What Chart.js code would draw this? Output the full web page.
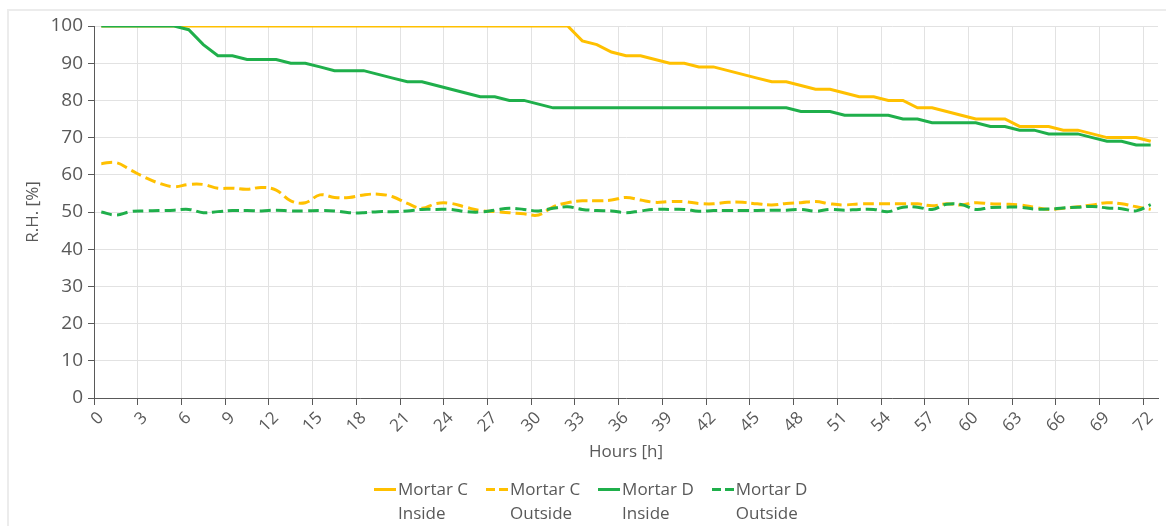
<!DOCTYPE html>
<html>
<head>
<meta charset="utf-8">
<script src="https://cdn.jsdelivr.net/npm/chart.js@4.4.1/dist/chart.umd.min.js"></script>
<style>
  html, body { margin: 0; padding: 0; background: #fff; }
  #wrap { position: relative; width: 1166px; height: 526px; overflow: hidden; font-family: "Open Sans", sans-serif; }
  #frame { position: absolute; left: 7px; top: 9px; width: 1200px; height: 600px; border: 2px solid #ececec; box-sizing: border-box; }
  #chart { position: absolute; left: 0; top: 0; }
  #legend { position: absolute; left: 374px; top: 477px; display: flex; }
  .item { display: flex; align-items: flex-start; margin-right: 18px; color: #595959; font-size: 17px; line-height: 24px; }
  .swatch { width: 22px; height: 3px; margin-top: 11px; margin-right: 2px; }
</style>
</head>
<body>
<div id="wrap">
  <div id="frame"></div>
  <canvas id="chart" width="1166" height="526"></canvas>
  <div id="legend"></div>
</div>
<script>
// hours on the x axis
const hours = [0, 1, 2, 3, 4, 5, 6, 7, 8, 9, 10, 11, 12, 13, 14, 15, 16, 17, 18, 19, 20,
    21, 22, 23, 24, 25, 26, 27, 28, 29, 30, 31, 32, 33, 34, 35, 36, 37, 38, 39, 40, 41,
    42, 43, 44, 45, 46, 47, 48, 49, 50, 51, 52, 53, 54, 55, 56, 57, 58, 59, 60, 61, 62,
    63, 64, 65, 66, 67, 68, 69, 70, 71, 72];
const xTickLabels = [0, 3, 6, 9, 12, 15, 18, 21, 24, 27, 30, 33, 36, 39, 42, 45, 48, 51, 54, 57, 60, 63, 66, 69, 72];

const mortarCInside = [100, 100, 100, 100, 100, 100, 100, 100, 100, 100, 100, 100, 100, 100, 100, 100,
    100, 100, 100, 100, 100, 100, 100, 100, 100, 100, 100, 100, 100, 100, 100, 100, 100,
    96, 95, 93, 92, 92, 91, 90, 90, 89, 89, 88, 87, 86, 85, 85, 84, 83, 83, 82, 81, 81, 80,
    80, 78, 78, 77, 76, 75, 75, 75, 73, 73, 73, 72, 72, 71, 70, 70, 70, 69];
const mortarCOutside = [63.0, 63.3, 61.3, 59.3, 57.7, 56.8, 57.4, 57.4, 56.4, 56.4,
    56.1, 56.6, 55.9, 53.0, 52.5, 54.6, 53.9, 53.9, 54.6, 54.8,
    54.1, 52.3, 51.0, 52.3, 52.3, 51.3, 50.4, 50.1, 49.8, 49.5,
    49.2, 51.4, 52.5, 53.0, 53.0, 53.2, 53.9, 53.2, 52.6, 52.8,
    52.8, 52.3, 52.2, 52.6, 52.6, 52.2, 51.9, 52.3, 52.5, 52.8,
    52.2, 51.9, 52.2, 52.2, 52.2, 52.2, 52.2, 51.7, 52.2, 51.9,
    52.5, 52.2, 52.1, 51.9, 51.3, 50.7, 51.0, 51.4, 51.9, 52.5,
    52.2, 51.4, 50.7];
const mortarDInside = [100, 100, 100, 100, 100, 100, 99, 95, 92, 92, 91, 91, 91, 90, 90, 89,
    88, 88, 88, 87, 86, 85, 85, 84, 83, 82, 81, 81, 80, 80, 79, 78,
    78, 78, 78, 78, 78, 78, 78, 78, 78, 78, 78, 78, 78, 78, 78, 78,
    77, 77, 77, 76, 76, 76, 76, 75, 75, 74, 74, 74, 74, 73, 73, 72, 72, 71, 71, 71, 70, 69, 69, 68, 68];
const mortarDOutside = [50.0, 49.2, 50.1, 50.3, 50.4, 50.5, 50.7, 49.8, 50.1, 50.4,
    50.4, 50.3, 50.5, 50.3, 50.3, 50.4, 50.3, 49.8, 49.8, 50.1,
    50.1, 50.3, 50.7, 50.7, 50.7, 50.1, 50.0, 50.5, 51.0, 50.7,
    50.3, 51.0, 51.4, 50.7, 50.4, 50.3, 49.8, 50.3, 50.7, 50.7,
    50.7, 50.2, 50.4, 50.4, 50.4, 50.4, 50.5, 50.5, 50.7, 50.2,
    50.7, 50.5, 50.7, 50.7, 50.1, 51.3, 51.3, 50.7, 52.1, 52.0,
    50.7, 51.2, 51.3, 51.3, 50.8, 50.8, 51.1, 51.3, 51.5, 51.1,
    50.9, 50.3, 52.0];

const seriesNames = [['Mortar C', 'Inside'], ['Mortar C', 'Outside'], ['Mortar D', 'Inside'], ['Mortar D', 'Outside']];

const yellow = '#FFC000';
const green = '#1FAF4B';
const textColor = '#595959';
const gridColor = '#e2e2e2';
const dash = [11, 5];

function makeDataset(name, values, color, dashed, order) {
    return {
        label: name.join(' '),
        legendLines: name,
        data: values,
        borderColor: color,
        backgroundColor: color,
        borderWidth: 3,
        borderDash: dashed ? dash : [],
        tension: dashed ? 0.4 : 0,
        pointRadius: 0,
        fill: false,
        order: order
    };
}

const chart = new Chart(document.getElementById('chart'), {
    type: 'line',
    data: {
        labels: hours,
        datasets: [
            makeDataset(seriesNames[0], mortarCInside, yellow, false, 4),
            makeDataset(seriesNames[1], mortarCOutside, yellow, true, 3),
            makeDataset(seriesNames[2], mortarDInside, green, false, 2),
            makeDataset(seriesNames[3], mortarDOutside, green, true, 1)
        ]
    },
    options: {
        responsive: false,
        animation: false,
        layout: { padding: { left: 19, right: 8, top: 26, bottom: 60 } },
        plugins: {
            legend: { display: false },
            tooltip: { enabled: false }
        },
        scales: {
            x: {
                type: 'linear',
                min: -0.5,
                max: 72.5,
                // gridlines sit between categories, labels on the category centres
                afterBuildTicks: scale => {
                    scale.ticks = xTickLabels.map(h => ({ value: h - 0.5 }));
                },
                afterFit: scale => { scale.height = 68; },
                grid: { color: gridColor, tickColor: textColor, tickLength: 7 },
                border: { color: textColor, width: 1 },
                ticks: {
                    autoSkip: false,
                    minRotation: 45,
                    maxRotation: 45,
                    labelOffset: 7,
                    padding: 3,
                    color: textColor,
                    font: { family: 'Open Sans', size: 17 },
                    callback: (value, index) => String(xTickLabels[index])
                },
                title: {
                    display: true,
                    text: 'Hours [h]',
                    color: textColor,
                    font: { family: 'Open Sans', size: 17 },
                    padding: { top: 4, bottom: 4 }
                }
            },
            y: {
                min: 0,
                max: 100,
                afterFit: scale => { scale.width = 75; },
                grid: { color: gridColor, tickColor: textColor, tickLength: 6 },
                border: { color: textColor, width: 1 },
                ticks: {
                    stepSize: 10,
                    padding: 5,
                    color: textColor,
                    font: { family: 'Open Sans', size: 19 }
                },
                title: {
                    display: true,
                    text: 'R.H. [%]',
                    color: textColor,
                    font: { family: 'Open Sans', size: 17 },
                    padding: { top: 4, bottom: 4 }
                }
            }
        }
    }
});

// html legend with two-line labels
const legendEl = document.getElementById('legend');
chart.data.datasets.forEach(ds => {
    const item = document.createElement('div');
    item.className = 'item';
    const swatch = document.createElement('div');
    swatch.className = 'swatch';
    if (ds.borderDash.length) {
        swatch.style.background = 'repeating-linear-gradient(to right, ' + ds.borderColor +
            ' 0 9px, transparent 9px 13px)';
    } else {
        swatch.style.background = ds.borderColor;
    }
    const text = document.createElement('div');
    text.innerHTML = ds.legendLines.join('<br>');
    item.appendChild(swatch);
    item.appendChild(text);
    legendEl.appendChild(item);
});
</script>
</body>
</html>
